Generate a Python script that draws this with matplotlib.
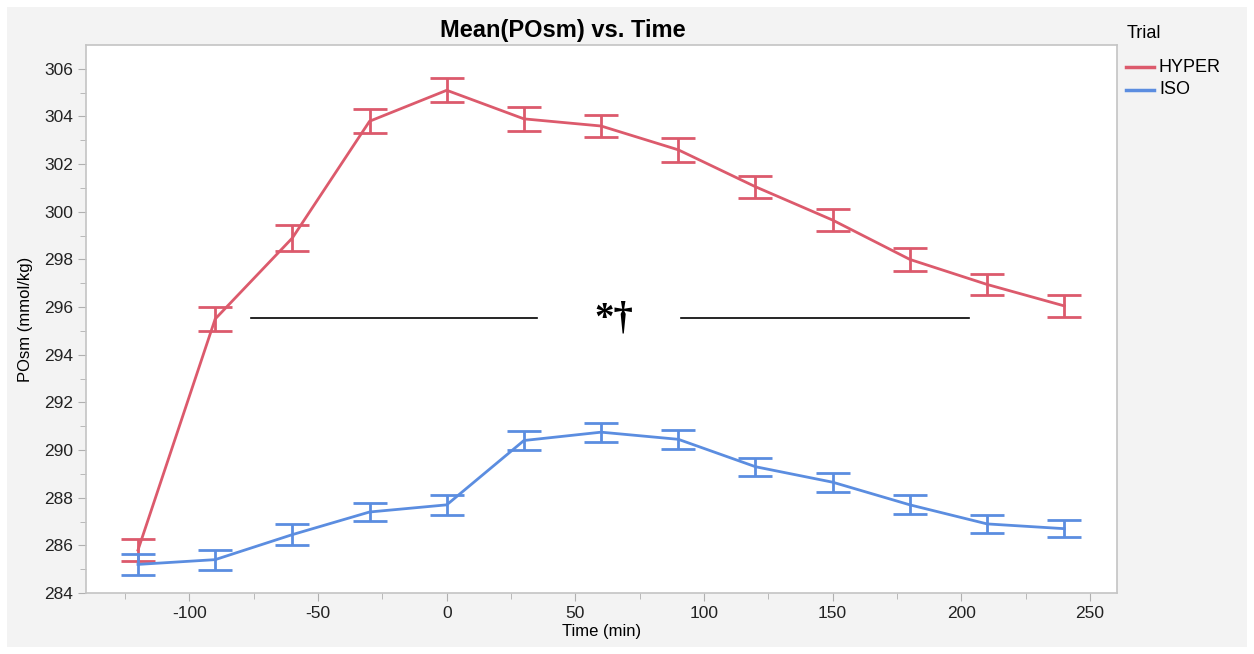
import matplotlib.pyplot as plt
from matplotlib.patches import Rectangle
from matplotlib.lines import Line2D

plt.rcParams['font.family'] = ['Liberation Sans', 'DejaVu Sans']
plt.rcParams['axes.unicode_minus'] = False

# time points (min)
time = [-120, -90, -60, -30, 0, 30, 60, 90, 120, 150, 180, 210, 240]

# mean POsm and error half-widths
hyper_mean = [285.8, 295.5, 298.9, 303.8, 305.1, 303.9, 303.6, 302.6, 301.05, 299.65, 298.0, 296.95, 296.05]
hyper_err = [0.45, 0.5, 0.55, 0.5, 0.5, 0.5, 0.45, 0.5, 0.47, 0.45, 0.47, 0.45, 0.45]
iso_mean = [285.2, 285.4, 286.45, 287.4, 287.7, 290.4, 290.75, 290.45, 289.3, 288.65, 287.7, 286.9, 286.7]
iso_err = [0.45, 0.42, 0.45, 0.38, 0.42, 0.4, 0.4, 0.4, 0.37, 0.4, 0.4, 0.37, 0.36]

# significance bar
sig_left = [-76, 35]
sig_right = [91, 203]
sig_y = 295.55
sig_label = '*\u2020'

red = '#dc5a6c'
blue = '#5b8de0'

fig = plt.figure(figsize=(12.54, 6.54), dpi=100)
fig.patch.set_facecolor('white')
# grey panel behind everything
fig.patches.append(Rectangle((7/1254, 7/654), 1240/1254, 640/654,
                             transform=fig.transFigure, facecolor='#f3f3f3',
                             edgecolor='none', zorder=-10))

ax = fig.add_axes([86/1254, 1 - 593/654, (1117 - 86)/1254, (593 - 45)/654])
ax.set_facecolor('white')

ax.errorbar(time, hyper_mean, yerr=hyper_err, color=red, lw=2, capsize=12,
            capthick=2, elinewidth=2)
ax.errorbar(time, iso_mean, yerr=iso_err, color=blue, lw=2, capsize=12,
            capthick=2, elinewidth=2)

ax.plot(sig_left, [sig_y, sig_y], color='black', lw=1.2)
ax.plot(sig_right, [sig_y, sig_y], color='black', lw=1.2)
ax.text(65, sig_y - 0.05, sig_label, fontsize=28, fontweight='bold', ha='center',
        va='center', family=['Liberation Serif', 'DejaVu Serif'])

ax.set_xlim(-140.2, 260.5)
ax.set_ylim(284, 307)
ax.set_xticks([-100, -50, 0, 50, 100, 150, 200, 250])
ax.set_xticks(range(-125, 251, 50), minor=True)
ax.set_yticks(range(284, 307, 2))
ax.set_yticks(range(285, 307, 2), minor=True)

for s in ax.spines.values():
    s.set_color('#c4c4c4')
    s.set_linewidth(1.2)
ax.tick_params(which='both', color='#b0b0b0', labelsize=12.5, labelcolor='#222222')
ax.tick_params(which='major', length=6)
ax.tick_params(which='minor', length=4)

ax.set_xlabel('Time (min)', fontsize=12, labelpad=2)
ax.set_ylabel('POsm (mmol/kg)', fontsize=12, labelpad=8)

fig.text(563/1254, 1 - 30/654, 'Mean(POsm) vs. Time', fontsize=17,
         fontweight='bold', ha='center', va='center')

# legend
fig.text(1127/1254, 1 - 33/654, 'Trial', fontsize=13, ha='left', va='center')
fig.lines.append(Line2D([1126/1254, 1154/1254], [1 - 67/654, 1 - 67/654],
                        transform=fig.transFigure, color=red, lw=2.5))
fig.lines.append(Line2D([1126/1254, 1154/1254], [1 - 90/654, 1 - 90/654],
                        transform=fig.transFigure, color=blue, lw=2.5))
fig.text(1159/1254, 1 - 67/654, 'HYPER', fontsize=13, ha='left', va='center')
fig.text(1159/1254, 1 - 90/654, 'ISO', fontsize=13, ha='left', va='center')

fig.savefig('out.png', dpi=100)
